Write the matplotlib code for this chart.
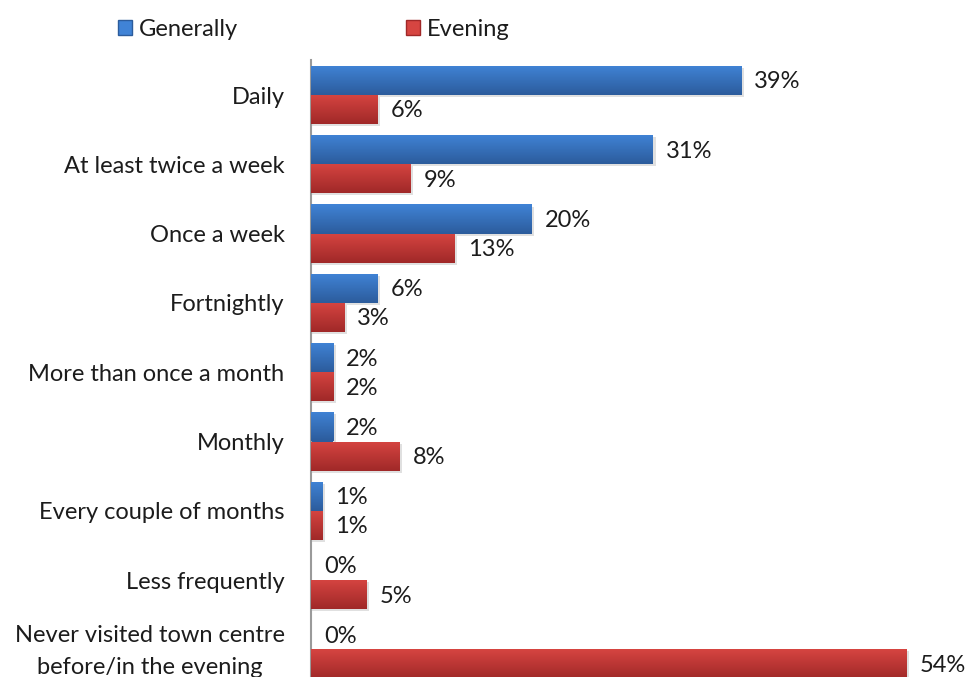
import numpy as np
import matplotlib
matplotlib.use("Agg")
import matplotlib.pyplot as plt
from matplotlib.patches import Patch
from matplotlib.transforms import ScaledTranslation

plt.rcParams['font.family'] = ['Lato', 'DejaVu Sans']

categories = ["Daily", "At least twice a week", "Once a week", "Fortnightly",
              "More than once a month", "Monthly", "Every couple of months",
              "Less frequently", "Never visited town centre\nbefore/in the evening"]
generally = [39, 31, 20, 6, 2, 2, 1, 0, 0]
evening = [6, 9, 13, 3, 2, 8, 1, 5, 54]

blue_top, blue_bot = "#4083d6", "#2c5c9c"
red_top, red_bot = "#d64541", "#a02828"
txt = "#1c1c1c"

W, H = 969, 677
fig = plt.figure(figsize=(W / 100, H / 100), dpi=100)
fig.patch.set_facecolor("white")

# axes spans from the category axis line to the right edge; bottom is cut off
ax_left, ax_top = 311, 60
ax = fig.add_axes([ax_left / W, 0, 1 - ax_left / W, 1 - ax_top / H])
px_per_cat = 69.3
first_center = 95
ax.set_ylim((H - first_center) / px_per_cat, (ax_top - first_center) / px_per_cat)
ax.set_xlim(0, (W - ax_left) / 11.03)

y = np.arange(len(categories))
h = 0.42
b1 = ax.barh(y - h / 2, generally, height=h, color=blue_bot, zorder=2)
b2 = ax.barh(y + h / 2, evening, height=h, color=red_bot, zorder=2)


def shade(bars, top, bot):
    grad = np.linspace(0, 1, 64).reshape(-1, 1)
    cmap = matplotlib.colors.LinearSegmentedColormap.from_list("g", [top, bot])
    for bar in bars:
        x0, y0 = bar.get_x(), bar.get_y()
        w, hh = bar.get_width(), bar.get_height()
        if w <= 0:
            bar.set_visible(False)
            continue
        # soft drop shadow
        ax.barh(y0 + hh / 2 + 0.03, w + 0.25, height=hh, left=x0,
                color="#000000", alpha=0.12, zorder=1, linewidth=0)
        im = ax.imshow(grad, cmap=cmap, aspect="auto", zorder=3,
                       extent=(x0, x0 + w, y0 + hh, y0), interpolation="bilinear")
        im.set_clip_path(bar)


shade(b1, blue_top, blue_bot)
shade(b2, red_top, red_bot)

for bars, vals in ((b1, generally), (b2, evening)):
    for bar, v in zip(bars, vals):
        ax.text(v + 1.2, bar.get_y() + bar.get_height() / 2 + 0.02, f"{v}%",
                va="center", ha="left", fontsize=17, color=txt, zorder=4)

ax.set_yticks(y)
ax.set_yticklabels(categories, fontsize=17, color=txt, ha="right",
                   multialignment="center", linespacing=1.6)
ax.tick_params(axis="y", length=0, pad=19)
# nudge the two-line label up a little
last = ax.get_yticklabels()[-1]
last.set_transform(last.get_transform() + ScaledTranslation(0, 0.05, fig.dpi_scale_trans))
ax.set_xticks([])
for side in ("top", "right", "bottom"):
    ax.spines[side].set_visible(False)
ax.spines["left"].set_color("#9a9a9a")
ax.spines["left"].set_linewidth(1.5)

handles = [Patch(facecolor=blue_top, edgecolor=blue_bot),
           Patch(facecolor=red_top, edgecolor=red_bot)]
fig.legend(handles, ["Generally", "Evening"], ncol=2, frameon=False,
           loc="center left", bbox_to_anchor=(118 / W, 1 - 29 / H),
           borderpad=0, borderaxespad=0,
           fontsize=17, handlelength=0.6, handleheight=0.6,
           handletextpad=0.3, columnspacing=7.1, labelcolor=txt)

fig.savefig("out.png", dpi=100, facecolor="white")
